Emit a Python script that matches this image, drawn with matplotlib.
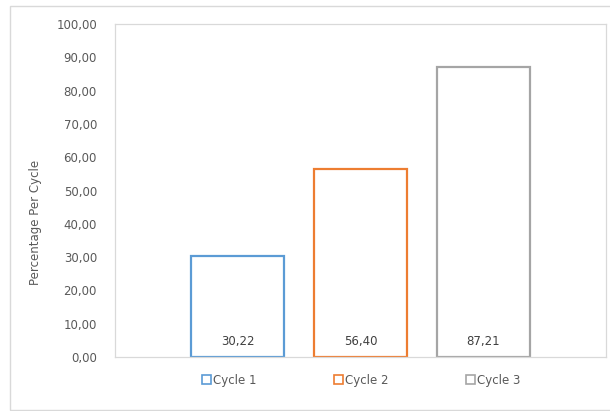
import matplotlib.pyplot as plt
from matplotlib.patches import Rectangle

series = ['Cycle 1', 'Cycle 2', 'Cycle 3']
values = [30.22, 56.40, 87.21]
colors = ['#5B9BD5', '#ED7D31', '#A5A5A5']
yticks = [0, 10, 20, 30, 40, 50, 60, 70, 80, 90, 100]

plt.rcParams['font.family'] = ['DejaVu Sans']

fig = plt.figure(figsize=(6.1, 4.11), dpi=100)
ax = fig.add_axes([115 / 610, 54 / 411, 491 / 610, 333 / 411])

# outer chart frame
fig.patches.append(Rectangle((10 / 610, 1 / 411), 0.99, 404 / 411, transform=fig.transFigure,
                             fill=False, edgecolor='#D9D9D9', linewidth=1.0))

offsets = [-1, 0, 1]
width = 93 / 123
for off, name, val, col in zip(offsets, series, values, colors):
    ax.bar(off, val, width=width, facecolor='white', edgecolor=col, linewidth=1.6, label=name)
    ax.text(off, 4.6, f'{val:.2f}'.replace('.', ','), ha='center', va='center',
            fontsize=8.5, color='#404040')

ax.set_xlim(-245.5 / 123, 245.5 / 123)
ax.set_ylim(0, 100)
ax.set_xticks([])
ax.set_yticks(yticks)
ax.set_yticklabels([f'{t:.2f}'.replace('.', ',') for t in yticks], fontsize=8.5, color='#595959')
ax.tick_params(axis='y', length=0, pad=13)
for side in ['top', 'left', 'right', 'bottom']:
    ax.spines[side].set_color('#D9D9D9')
    ax.spines[side].set_linewidth(0.9)

ax.set_ylabel('Percentage Per Cycle', fontsize=8.5, color='#595959')
ax.yaxis.set_label_coords(-73 / 491, 0.405)

leg = fig.legend(loc='center', bbox_to_anchor=(361 / 610, 1 - 380 / 411), ncol=3, frameon=False,
                 fontsize=8.5, handlelength=0.75, handleheight=0.75, handletextpad=0.2,
                 columnspacing=6.55, labelcolor='#595959')
for h in leg.legend_handles:
    h.set_linewidth(1.2)

fig.savefig('out.png', dpi=100)
